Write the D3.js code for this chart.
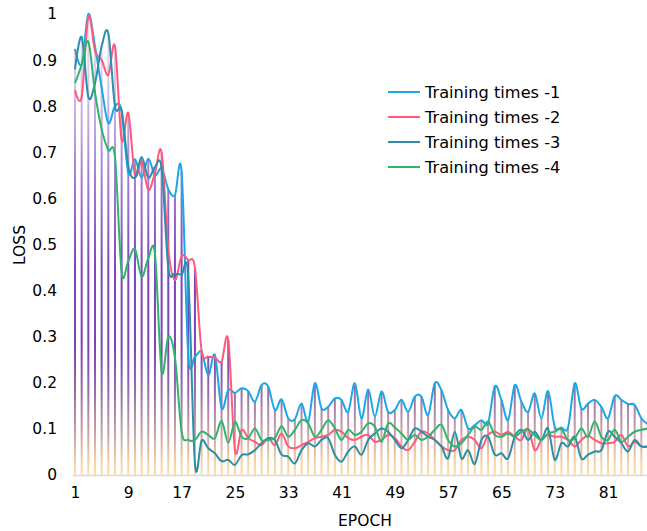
<!DOCTYPE html>
<html>
<head>
<meta charset="utf-8">
<script src="https://cdn.jsdelivr.net/npm/d3@7"></script>
<style>
  body { margin: 0; background: #fff; }
  text { font-family: "DejaVu Sans", Verdana, sans-serif; fill: #000; }
</style>
</head>
<body>
<svg id="chart" width="647" height="531"></svg>
<script>
const epochs = d3.range(1, 88);
const xTicks = [1, 9, 17, 25, 33, 41, 49, 57, 65, 73, 81];
const yTicks = [0, 0.1, 0.2, 0.3, 0.4, 0.5, 0.6, 0.7, 0.8, 0.9, 1];
const seriesNames = ["Training times -1", "Training times -2", "Training times -3", "Training times -4"];

const run1 = [0.924, 0.89, 1.0, 0.93, 0.84, 0.763, 0.80, 0.79, 0.655, 0.685,
  0.645, 0.686, 0.65, 0.665, 0.62, 0.607, 0.658, 0.26, 0.257, 0.267,
  0.217, 0.26, 0.145, 0.184, 0.178, 0.188, 0.182, 0.159, 0.195, 0.192,
  0.141, 0.164, 0.123, 0.121, 0.155, 0.116, 0.199, 0.145, 0.148, 0.166,
  0.163, 0.137, 0.199, 0.123, 0.186, 0.127, 0.181, 0.137, 0.141, 0.163,
  0.137, 0.170, 0.170, 0.13, 0.199, 0.184, 0.141, 0.123, 0.141, 0.101,
  0.108, 0.119, 0.112, 0.192, 0.163, 0.119, 0.195, 0.159, 0.137, 0.177,
  0.123, 0.182, 0.105, 0.103, 0.103, 0.199, 0.144, 0.155, 0.163, 0.148,
  0.123, 0.171, 0.163, 0.154, 0.152, 0.123, 0.11];
const run2 = [0.835, 0.82, 0.994, 0.92, 0.90, 0.868, 0.93, 0.727, 0.785, 0.65,
  0.68, 0.618, 0.655, 0.70, 0.49, 0.423, 0.475, 0.466, 0.45, 0.27,
  0.257, 0.255, 0.246, 0.293, 0.054, 0.098, 0.08, 0.072, 0.065, 0.08,
  0.065, 0.09, 0.062, 0.058, 0.065, 0.072, 0.08, 0.083, 0.087, 0.098,
  0.094, 0.08, 0.076, 0.083, 0.087, 0.072, 0.076, 0.087, 0.08, 0.062,
  0.054, 0.072, 0.094, 0.09, 0.076, 0.062, 0.054, 0.054, 0.076, 0.083,
  0.076, 0.058, 0.087, 0.094, 0.087, 0.094, 0.083, 0.076, 0.101, 0.054,
  0.076, 0.087, 0.083, 0.083, 0.076, 0.062, 0.076, 0.085, 0.076, 0.069,
  0.069, 0.072, 0.087, 0.062, 0.072, 0.062, 0.062];
const run3 = [0.88, 0.95, 0.82, 0.85, 0.93, 0.958, 0.80, 0.79, 0.67, 0.645,
  0.69, 0.645, 0.668, 0.665, 0.45, 0.437, 0.435, 0.43, 0.025, 0.075,
  0.058, 0.047, 0.03, 0.033, 0.022, 0.043, 0.045, 0.054, 0.069, 0.08,
  0.076, 0.044, 0.04, 0.025, 0.054, 0.069, 0.062, 0.076, 0.08, 0.044,
  0.029, 0.051, 0.062, 0.044, 0.076, 0.09, 0.101, 0.094, 0.076, 0.058,
  0.076, 0.101, 0.094, 0.083, 0.076, 0.062, 0.036, 0.094, 0.036, 0.054,
  0.024, 0.076, 0.083, 0.044, 0.047, 0.036, 0.083, 0.098, 0.076, 0.094,
  0.076, 0.101, 0.033, 0.069, 0.062, 0.083, 0.036, 0.044, 0.051, 0.054,
  0.094, 0.083, 0.069, 0.051, 0.076, 0.062, 0.062];
const run4 = [0.85, 0.89, 0.94, 0.83, 0.75, 0.705, 0.69, 0.44, 0.465, 0.49,
  0.43, 0.47, 0.48, 0.224, 0.30, 0.255, 0.094, 0.076, 0.076, 0.094,
  0.087, 0.08, 0.117, 0.07, 0.115, 0.083, 0.08, 0.101, 0.076, 0.076,
  0.08, 0.106, 0.083, 0.098, 0.119, 0.112, 0.083, 0.098, 0.119, 0.101,
  0.076, 0.098, 0.087, 0.094, 0.112, 0.105, 0.072, 0.112, 0.103, 0.09,
  0.076, 0.087, 0.076, 0.083, 0.098, 0.109, 0.076, 0.062, 0.069, 0.087,
  0.105, 0.098, 0.116, 0.087, 0.083, 0.09, 0.083, 0.094, 0.099, 0.087,
  0.076, 0.09, 0.094, 0.099, 0.076, 0.08, 0.101, 0.083, 0.116, 0.083,
  0.076, 0.098, 0.072, 0.083, 0.094, 0.098, 0.101];

const colors = ["#1aa8e6", "#ff5a7c", "#2b8fa9", "#2fb46e"];

const svg = d3.select("#chart");
const x = d3.scaleLinear().domain([1, 87]).range([75, 648]);
const y = d3.scaleLinear().domain([0, 1]).range([475, 14]);

const runs = [run1, run2, run3, run4];
const peak = epochs.map((e, i) => d3.max(runs, r => r[i]));

// gradient for the drop lines, spans the whole plot height
const grad = svg.append("defs").append("linearGradient")
    .attr("id", "dropGrad")
    .attr("gradientUnits", "userSpaceOnUse")
    .attr("x1", 0).attr("x2", 0)
    .attr("y1", y(1)).attr("y2", y(0));
[[0, "#efe6f5"], [0.15, "#d9c5e8"], [0.35, "#a67ed0"], [0.55, "#7e45b9"], [0.72, "#7b42b0"],
 [0.82, "#9a6ca8"], [0.91, "#c9a2a6"], [0.97, "#f5cfa2"], [1, "#ffdcaa"]]
    .forEach(s => grad.append("stop").attr("offset", s[0]).attr("stop-color", s[1]));

svg.append("g").selectAll("line").data(epochs).join("line")
    .attr("x1", d => x(d)).attr("x2", d => x(d))
    .attr("y1", y(0)).attr("y2", (d, i) => y(peak[i]))
    .attr("stroke", "url(#dropGrad)").attr("stroke-width", 2);

// x axis
const xAxis = svg.append("g").attr("transform", `translate(0,${y(0)})`)
    .call(d3.axisBottom(x).tickValues(xTicks).tickSize(0).tickPadding(12).tickFormat(d3.format("d")));
xAxis.select(".domain").attr("stroke", "#d9d9d9").attr("stroke-width", 1.5)
    .attr("d", `M73,0.5H647`);
xAxis.selectAll("text").style("font-size", "15.5px").attr("font-family", null);

// y axis labels only
const yAxis = svg.append("g").attr("transform", "translate(75,0)")
    .call(d3.axisLeft(y).tickValues(yTicks).tickSize(0).tickPadding(18).tickFormat(d3.format("")));
yAxis.select(".domain").remove();
yAxis.selectAll("text").style("font-size", "15.5px").attr("font-family", null);

const line = d3.line()
    .x((d, i) => x(epochs[i]))
    .y(d => y(d))
    .curve(d3.curveCardinal.tension(0));

svg.append("g").selectAll("path").data(runs).join("path")
    .attr("d", d => line(d))
    .attr("fill", "none")
    .attr("stroke", (d, i) => colors[i])
    .attr("stroke-width", 2);

// legend
const legend = svg.append("g").selectAll("g").data(seriesNames).join("g")
    .attr("transform", (d, i) => `translate(388,${92 + i * 25})`);
legend.append("line").attr("x1", 0).attr("x2", 32)
    .attr("stroke", (d, i) => colors[i]).attr("stroke-width", 2);
legend.append("text").attr("x", 37).attr("dy", "0.35em")
    .style("font-size", "16.2px").text(d => d);

svg.append("text").attr("x", 365).attr("y", 526).attr("text-anchor", "middle")
    .style("font-size", "15.5px").text("EPOCH");
svg.append("text").attr("transform", "translate(25,245) rotate(-90)").attr("text-anchor", "middle")
    .style("font-size", "15.5px").text("LOSS");
</script>
</body>
</html>
